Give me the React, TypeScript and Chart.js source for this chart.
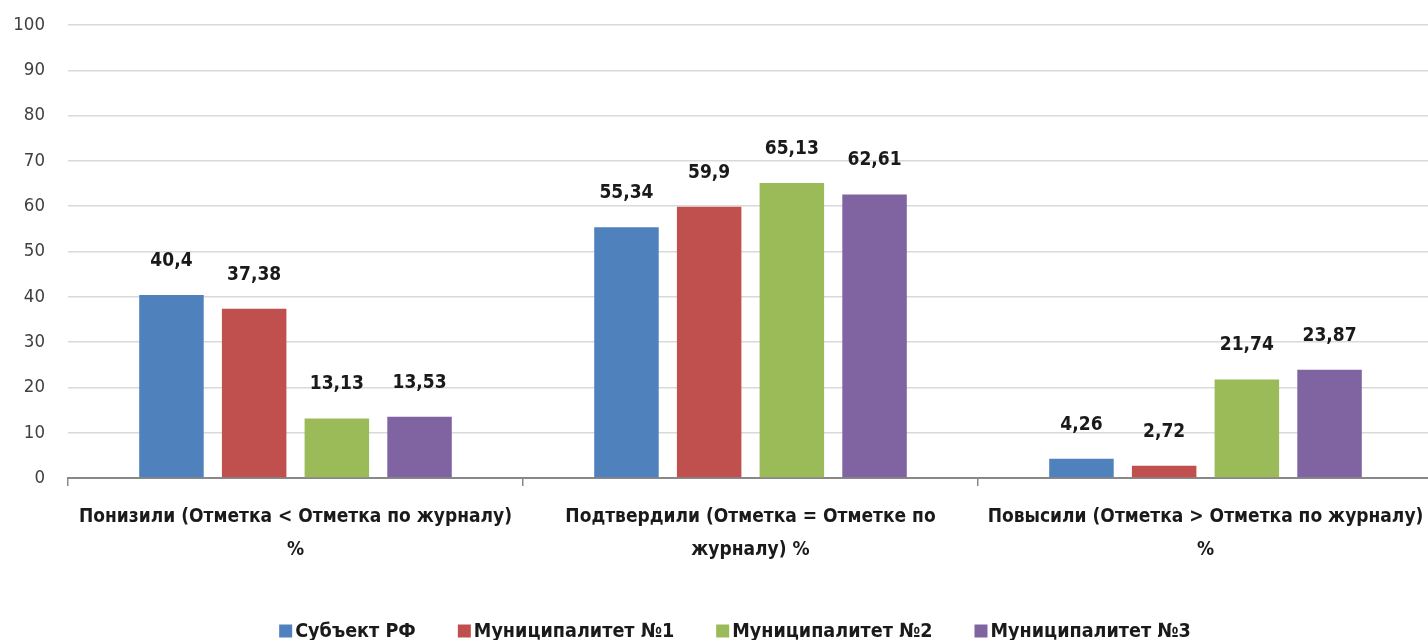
import React, { useEffect, useRef } from "react";
import { Chart, registerables } from "chart.js";

Chart.register(...registerables);

const categories: (string | string[])[] = [
  ["Понизили (Отметка < Отметка по журналу)", "%"],
  ["Подтвердили (Отметка = Отметке по", "журналу) %"],
  ["Повысили (Отметка > Отметка по журналу)", "%"],
];
const seriesNames = ["Субъект РФ", "Муниципалитет №1", "Муниципалитет №2", "Муниципалитет №3"];
const subjectRF = [40.4, 55.34, 4.26];
const muni1 = [37.38, 59.9, 2.72];
const muni2 = [13.13, 65.13, 21.74];
const muni3 = [13.53, 62.61, 23.87];
const colors = ["#4F81BD", "#C0504D", "#9BBB59", "#8064A2"];
const yTicks = [0, 10, 20, 30, 40, 50, 60, 70, 80, 90, 100];

const FONT = "'DejaVu Sans Condensed', 'DejaVu Sans', sans-serif";

const valueLabels = {
  id: "valueLabels",
  afterDatasetsDraw(chart: any) {
    const ctx = chart.ctx;
    ctx.save();
    ctx.font = `bold 19px ${FONT}`;
    ctx.fillStyle = "#1a1a1a";
    ctx.textAlign = "center";
    ctx.textBaseline = "middle";
    chart.data.datasets.forEach((ds: any, i: number) => {
      const meta = chart.getDatasetMeta(i);
      meta.data.forEach((el: any, j: number) => {
        const v = ds.data[j];
        ctx.fillText(String(v).replace(".", ","), el.x, el.y - 34);
      });
    });
    ctx.restore();
  },
};

const customLegend = {
  id: "customLegend",
  afterDraw(chart: any) {
    const ctx = chart.ctx;
    ctx.save();
    ctx.font = `bold 19.6px ${FONT}`;
    ctx.textBaseline = "middle";
    ctx.textAlign = "left";
    const box = 13;
    const gapBox = 3;
    const gapItem = 42;
    const widths = chart.data.datasets.map((d: any) => box + gapBox + ctx.measureText(d.label).width);
    const total = widths.reduce((a: number, b: number) => a + b, 0) + gapItem * (widths.length - 1);
    let x = 735 - total / 2;
    const y = 631;
    chart.data.datasets.forEach((d: any, i: number) => {
      ctx.fillStyle = d.backgroundColor;
      ctx.fillRect(x, y - box / 2, box, box);
      ctx.fillStyle = "#1a1a1a";
      ctx.fillText(d.label, x + box + gapBox, y + 1);
      x += widths[i] + gapItem;
    });
    ctx.restore();
  },
};

export default function App() {
  const ref = useRef<HTMLCanvasElement>(null);
  useEffect(() => {
    document.body.style.margin = "0";
    document.body.style.overflow = "hidden";
    const seriesData = [subjectRF, muni1, muni2, muni3];
    const chart = new Chart(ref.current!, {
      type: "bar",
      data: {
        labels: categories,
        datasets: seriesNames.map((name, i) => ({
          label: name,
          data: seriesData[i],
          backgroundColor: colors[i],
          categoryPercentage: 0.727,
          barPercentage: 0.78,
        })),
      },
      options: {
        animation: false,
        responsive: false,
        maintainAspectRatio: false,
        layout: { padding: { top: 25, left: 0, right: 0, bottom: 0 } },
        plugins: { legend: { display: false }, tooltip: { enabled: false } },
        scales: {
          x: {
            offset: true,
            grid: {
              display: true,
              drawOnChartArea: false,
              drawTicks: true,
              tickLength: 8,
              color: "#888888",
              lineWidth: 1.5,
              offset: true,
            },
            border: { display: true, color: "#888888", width: 2 },
            ticks: {
              color: "#1a1a1a",
              font: { family: FONT, size: 19, weight: "bold", lineHeight: "33px" },
              padding: 15,
              maxRotation: 0,
              autoSkip: false,
            },
            afterFit(scale: any) {
              scale.height = 640 - 478;
              scale.paddingLeft = 0;
              scale.paddingRight = 0;
            },
          },
          y: {
            min: 0,
            max: 100,
            afterBuildTicks(scale: any) {
              scale.ticks = yTicks.map((v) => ({ value: v }));
            },
            grid: { color: "#d9d9d9", lineWidth: 1.5, drawTicks: false },
            border: { display: false },
            ticks: {
              color: "#404040",
              font: { family: FONT, size: 18.5 },
              padding: 23,
            },
            afterFit(scale: any) {
              scale.width = 68;
              scale.paddingTop = 0;
              scale.paddingBottom = 0;
            },
          },
        },
      },
      plugins: [valueLabels, customLegend],
    });
    return () => chart.destroy();
  }, []);
  return (
    <div style={{ width: 1428, height: 640, overflow: "hidden", background: "#fff" }}>
      <canvas ref={ref} width={1433} height={640} style={{ display: "block" }} />
    </div>
  );
}
